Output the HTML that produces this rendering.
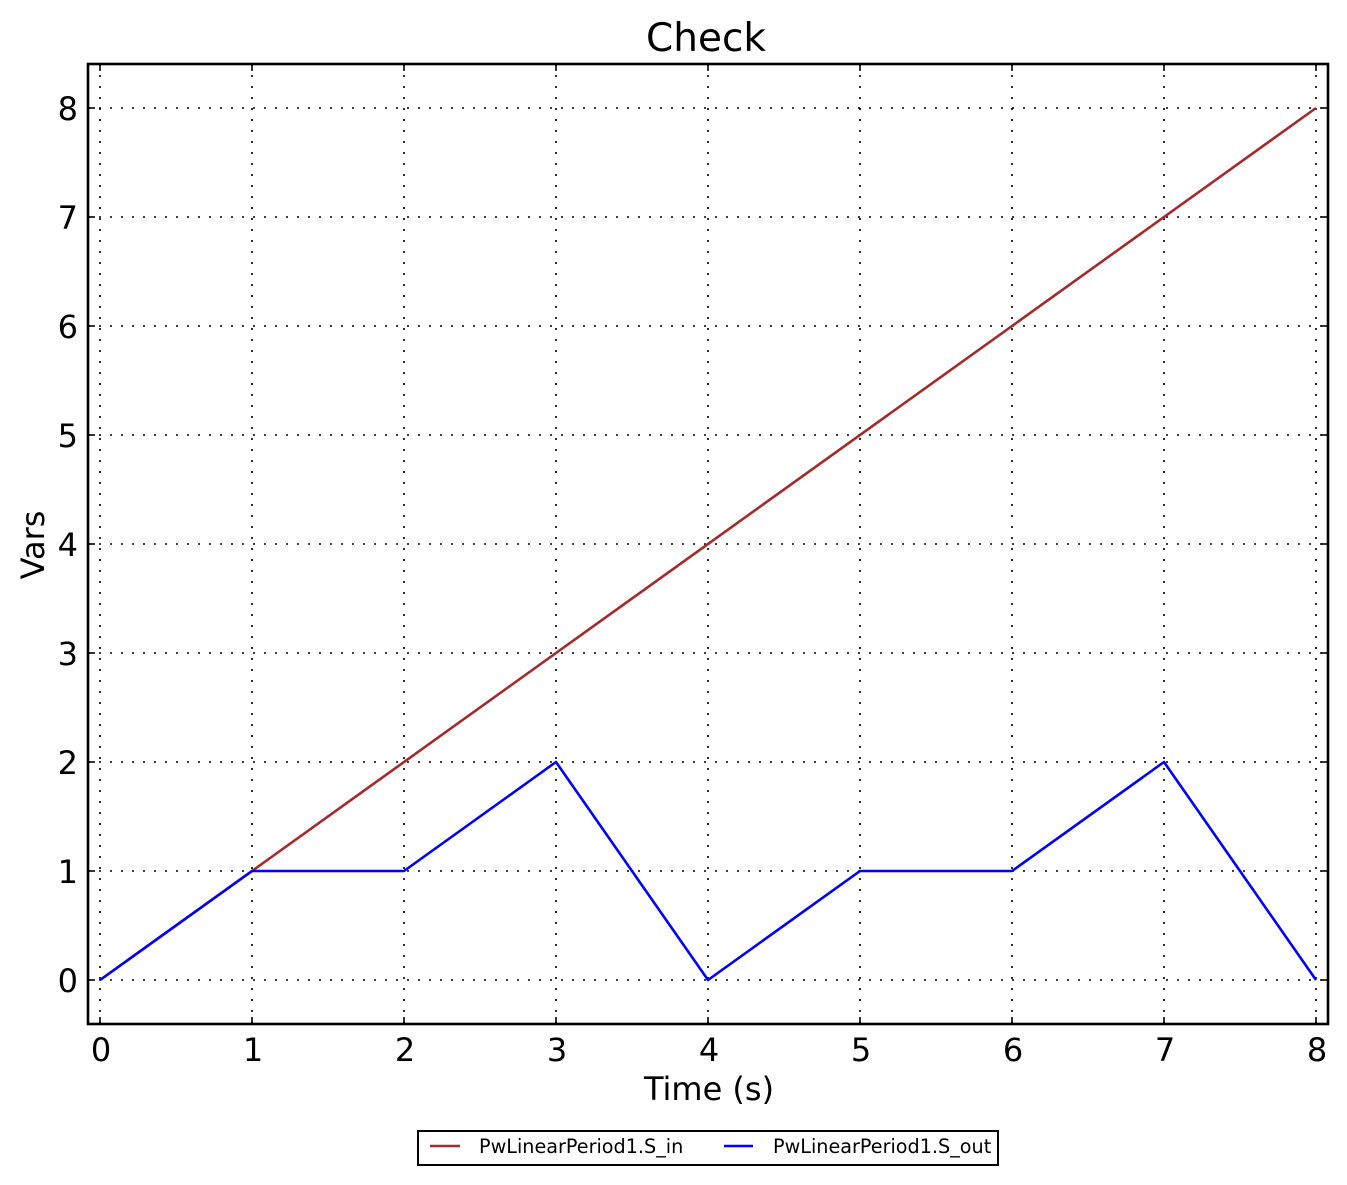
<!DOCTYPE html>
<html>
<head>
<meta charset="utf-8">
<style>
html,body{margin:0;padding:0;background:#fff;}
svg{display:block;}
text{font-family:"DejaVu Sans","Liberation Sans",sans-serif;fill:#000;}
</style>
</head>
<body>
<svg width="1347" height="1185" viewBox="0 0 1347 1185" xmlns="http://www.w3.org/2000/svg">
<rect x="0" y="0" width="1347" height="1185" fill="#fff"/>
<!-- grid -->
<g stroke="#000" stroke-width="1.6" stroke-dasharray="2,9" fill="none">
  <line x1="100" y1="64" x2="100" y2="1024"/>
  <line x1="252" y1="64" x2="252" y2="1024"/>
  <line x1="404" y1="64" x2="404" y2="1024"/>
  <line x1="556" y1="64" x2="556" y2="1024"/>
  <line x1="708" y1="64" x2="708" y2="1024"/>
  <line x1="860" y1="64" x2="860" y2="1024"/>
  <line x1="1012" y1="64" x2="1012" y2="1024"/>
  <line x1="1164" y1="64" x2="1164" y2="1024"/>
  <line x1="1316" y1="64" x2="1316" y2="1024"/>
  <line x1="88" y1="980" x2="1328" y2="980"/>
  <line x1="88" y1="871" x2="1328" y2="871"/>
  <line x1="88" y1="762" x2="1328" y2="762"/>
  <line x1="88" y1="653" x2="1328" y2="653"/>
  <line x1="88" y1="544" x2="1328" y2="544"/>
  <line x1="88" y1="435" x2="1328" y2="435"/>
  <line x1="88" y1="326" x2="1328" y2="326"/>
  <line x1="88" y1="217" x2="1328" y2="217"/>
  <line x1="88" y1="108" x2="1328" y2="108"/>
</g>
<!-- series -->
<polyline points="100,980 1316,108" fill="none" stroke="#a52a2a" stroke-width="2.6"/>
<polyline points="100,980 252,871 404,871 556,762 708,980 860,871 1012,871 1164,762 1316,980" fill="none" stroke="#0000ff" stroke-width="2.6" stroke-linejoin="round"/>
<!-- ticks -->
<g stroke="#000" stroke-width="1.6">
  <line x1="100" y1="1024" x2="100" y2="1017"/><line x1="100" y1="64" x2="100" y2="71"/>
  <line x1="252" y1="1024" x2="252" y2="1017"/><line x1="252" y1="64" x2="252" y2="71"/>
  <line x1="404" y1="1024" x2="404" y2="1017"/><line x1="404" y1="64" x2="404" y2="71"/>
  <line x1="556" y1="1024" x2="556" y2="1017"/><line x1="556" y1="64" x2="556" y2="71"/>
  <line x1="708" y1="1024" x2="708" y2="1017"/><line x1="708" y1="64" x2="708" y2="71"/>
  <line x1="860" y1="1024" x2="860" y2="1017"/><line x1="860" y1="64" x2="860" y2="71"/>
  <line x1="1012" y1="1024" x2="1012" y2="1017"/><line x1="1012" y1="64" x2="1012" y2="71"/>
  <line x1="1164" y1="1024" x2="1164" y2="1017"/><line x1="1164" y1="64" x2="1164" y2="71"/>
  <line x1="1316" y1="1024" x2="1316" y2="1017"/><line x1="1316" y1="64" x2="1316" y2="71"/>
  <line x1="88" y1="980" x2="95" y2="980"/><line x1="1328" y1="980" x2="1321" y2="980"/>
  <line x1="88" y1="871" x2="95" y2="871"/><line x1="1328" y1="871" x2="1321" y2="871"/>
  <line x1="88" y1="762" x2="95" y2="762"/><line x1="1328" y1="762" x2="1321" y2="762"/>
  <line x1="88" y1="653" x2="95" y2="653"/><line x1="1328" y1="653" x2="1321" y2="653"/>
  <line x1="88" y1="544" x2="95" y2="544"/><line x1="1328" y1="544" x2="1321" y2="544"/>
  <line x1="88" y1="435" x2="95" y2="435"/><line x1="1328" y1="435" x2="1321" y2="435"/>
  <line x1="88" y1="326" x2="95" y2="326"/><line x1="1328" y1="326" x2="1321" y2="326"/>
  <line x1="88" y1="217" x2="95" y2="217"/><line x1="1328" y1="217" x2="1321" y2="217"/>
  <line x1="88" y1="108" x2="95" y2="108"/><line x1="1328" y1="108" x2="1321" y2="108"/>
</g>
<!-- frame -->
<rect x="88" y="64" width="1240" height="960" fill="none" stroke="#000" stroke-width="2.6"/>
<!-- title -->
<text x="706" y="51" font-size="39" text-anchor="middle">Check</text>
<!-- x tick labels -->
<g font-size="32" text-anchor="middle">
  <text x="101" y="1061">0</text>
  <text x="253" y="1061">1</text>
  <text x="405" y="1061">2</text>
  <text x="557" y="1061">3</text>
  <text x="709" y="1061">4</text>
  <text x="861" y="1061">5</text>
  <text x="1013" y="1061">6</text>
  <text x="1165" y="1061">7</text>
  <text x="1317" y="1061">8</text>
</g>
<!-- y tick labels -->
<g font-size="32" text-anchor="end">
  <text x="78" y="992">0</text>
  <text x="78" y="883">1</text>
  <text x="78" y="774">2</text>
  <text x="78" y="665">3</text>
  <text x="78" y="556">4</text>
  <text x="78" y="447">5</text>
  <text x="78" y="338">6</text>
  <text x="78" y="229">7</text>
  <text x="78" y="120">8</text>
</g>
<!-- axis labels -->
<text x="709" y="1100" font-size="32" text-anchor="middle">Time (s)</text>
<text x="0" y="0" font-size="32" text-anchor="middle" transform="translate(44,545) rotate(-90)">Vars</text>
<!-- legend -->
<rect x="418" y="1131" width="580" height="34" fill="#fff" stroke="#000" stroke-width="2"/>
<line x1="430" y1="1146" x2="460" y2="1146" stroke="#a52a2a" stroke-width="2.6"/>
<text x="479" y="1153" font-size="19.2">PwLinearPeriod1.S_in</text>
<line x1="724" y1="1146" x2="753" y2="1146" stroke="#0000ff" stroke-width="2.6"/>
<text x="773" y="1153" font-size="19.2">PwLinearPeriod1.S_out</text>
</svg>
</body>
</html>
